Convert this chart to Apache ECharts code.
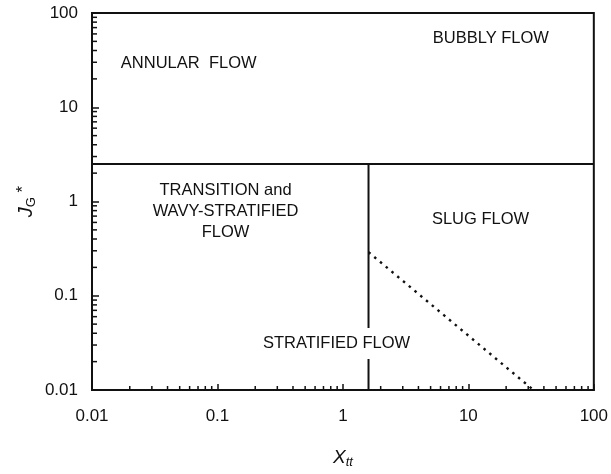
<!DOCTYPE html>
<html>
<head>
<meta charset="utf-8">
<script src="https://cdn.jsdelivr.net/npm/echarts@6/dist/echarts.min.js"></script>
<style>
  html, body { margin: 0; padding: 0; background: #fff; }
  #chart { width: 611px; height: 474px; }
</style>
</head>
<body>
<div id="chart"></div>
<script>
// axis ranges and tick labels
var xTicks = [0.01, 0.1, 1, 10, 100];
var yTicks = [0.01, 0.1, 1, 10, 100];
var tickLabels = ['0.01', '0.1', '1', '10', '100'];
var minorMult = [2, 3, 4, 5, 6, 7, 8, 9];

// flow-regime boundaries
var annularBoundaryX = [0.01, 100];
var annularBoundaryY = [2.5, 2.5];
var stratBoundaryX = [1.6, 1.6];
var stratBoundaryY = [0.01, 2.5];
var slugDashX = [1.6, 33];
var slugDashY = [0.29, 0.01];

// region labels (data coordinates)
var regionNames = ['ANNULAR  FLOW', 'BUBBLY FLOW', 'TRANSITION and\nWAVY-STRATIFIED\nFLOW', 'SLUG FLOW', 'STRATIFIED FLOW'];
var regionX = [0.059, 15.1, 0.116, 12.5, 0.89];
var regionY = [29.2, 53.4, 0.776, 0.64, 0.0311];

var minorX = [], minorY = [];
for (var i = 0; i < xTicks.length - 1; i++) {
  for (var j = 0; j < minorMult.length; j++) minorX.push(xTicks[i] * minorMult[j]);
}
for (var i = 0; i < yTicks.length - 1; i++) {
  for (var j = 0; j < minorMult.length; j++) minorY.push(yTicks[i] * minorMult[j]);
}

function zip(a, b) {
  return a.map(function (v, k) { return [v, b[k]]; });
}
function fmtTick(v) {
  for (var k = 0; k < xTicks.length; k++) {
    if (Math.abs(Math.log10(v) - Math.log10(xTicks[k])) < 1e-6) return tickLabels[k];
  }
  return '';
}

var chart = echarts.init(document.getElementById('chart'), null, { renderer: 'canvas' });
var black = '#111';
var textColor = '#111';
var font = 'Liberation Sans, Arial, Helvetica, sans-serif';

var option = {
  animation: false,
  backgroundColor: '#fff',
  grid: {
    left: 92, right: 17, top: 13, bottom: 80,
    show: true, borderColor: black, borderWidth: 2
  },
  xAxis: {
    type: 'log', logBase: 10, min: 0.01, max: 100,
    name: '{i|X}{s|tt}',
    nameLocation: 'middle', nameGap: 56,
    nameTextStyle: {
      rich: {
        i: { fontFamily: font, fontStyle: 'italic', fontSize: 19, color: textColor },
        s: { fontFamily: font, fontStyle: 'italic', fontSize: 13, color: textColor, padding: [10, 0, 0, 0] }
      }
    },
    axisLine: { lineStyle: { color: black, width: 2 } },
    axisTick: { inside: true, length: 6, lineStyle: { color: black, width: 1.5 } },
    axisLabel: { formatter: fmtTick, color: textColor, fontSize: 17, fontFamily: font, margin: 18 },
    splitLine: { show: false }
  },
  yAxis: {
    type: 'log', logBase: 10, min: 0.01, max: 100,
    name: '{i|J}{s|G}{a| *}',
    nameLocation: 'middle', nameGap: 54, nameRotate: 90, nameMoveOverlap: false,
    nameTextStyle: {
      rich: {
        i: { fontFamily: font, fontStyle: 'italic', fontSize: 20, color: textColor },
        s: { fontFamily: font, fontSize: 13, color: textColor, padding: [10, 0, 0, 0] },
        a: { fontFamily: font, fontSize: 17, color: textColor, padding: [0, 0, 6, 0] }
      }
    },
    axisLine: { lineStyle: { color: black, width: 2 } },
    axisTick: { inside: true, length: 7, lineStyle: { color: black, width: 1.5 } },
    axisLabel: { formatter: fmtTick, color: textColor, fontSize: 17, fontFamily: font, margin: 14 },
    splitLine: { show: false }
  },
  series: [
    {
      type: 'line', data: zip(annularBoundaryX, annularBoundaryY),
      symbol: 'none', lineStyle: { color: black, width: 2 }, z: 3
    },
    {
      type: 'line', data: zip(stratBoundaryX, stratBoundaryY),
      symbol: 'none', lineStyle: { color: black, width: 2 }, z: 3
    },
    {
      type: 'line', data: zip(slugDashX, slugDashY),
      symbol: 'none', lineStyle: { color: black, width: 2.4, type: [2.5, 5] }, z: 3
    },
    {
      // minor ticks on the x axis
      type: 'custom', silent: true, clip: false,
      data: minorX.map(function (v) { return [v, 0.01]; }),
      renderItem: function (params, api) {
        var p = api.coord([api.value(0), api.value(1)]);
        return {
          type: 'line',
          shape: { x1: p[0], y1: p[1], x2: p[0], y2: p[1] - 4 },
          style: { stroke: black, lineWidth: 1.5 }
        };
      }
    },
    {
      // minor ticks on the y axis
      type: 'custom', silent: true, clip: false,
      data: minorY.map(function (v) { return [0.01, v]; }),
      renderItem: function (params, api) {
        var p = api.coord([api.value(0), api.value(1)]);
        return {
          type: 'line',
          shape: { x1: p[0], y1: p[1], x2: p[0] + 5, y2: p[1] },
          style: { stroke: black, lineWidth: 1.5 }
        };
      }
    },
    {
      // regime names; the white box hides the boundary behind
      type: 'custom', silent: true, z: 10,
      data: regionX.map(function (x, k) { return [x, regionY[k], k]; }),
      renderItem: function (params, api) {
        var p = api.coord([api.value(0), api.value(1)]);
        return {
          type: 'text', x: p[0], y: p[1],
          style: {
            text: regionNames[api.value(2)],
            fill: textColor, font: '16.5px ' + font,
            lineHeight: 21, align: 'center', verticalAlign: 'middle',
            backgroundColor: '#fff', padding: [5, 2]
          }
        };
      }
    }
  ]
};

chart.setOption(option);
</script>
</body>
</html>
